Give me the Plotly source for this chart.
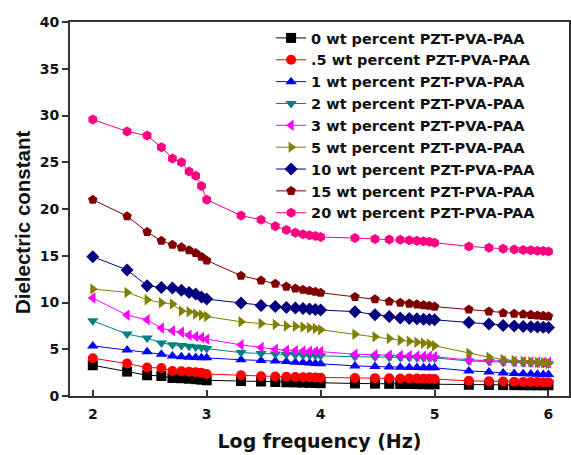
import plotly.graph_objects as go

log_freq = [2, 2.301, 2.477, 2.602, 2.699, 2.778, 2.845, 2.903, 2.954,
            3, 3.301, 3.477, 3.602, 3.699, 3.778, 3.845, 3.903, 3.954,
            4, 4.301, 4.477, 4.602, 4.699, 4.778, 4.845, 4.903, 4.954,
            5, 5.301, 5.477, 5.602, 5.699, 5.778, 5.845, 5.903, 5.954,
            6]

names = ["0 wt percent PZT-PVA-PAA", ".5 wt percent PZT-PVA-PAA",
         "1 wt percent PZT-PVA-PAA", "2 wt percent PZT-PVA-PAA",
         "3 wt percent PZT-PVA-PAA", "5 wt percent PZT-PVA-PAA",
         "10 wt percent PZT-PVA-PAA", "15 wt percent PZT-PVA-PAA",
         "20 wt percent PZT-PVA-PAA"]

s0 = [3.29, 2.61, 2.22, 2.14, 1.93, 1.9, 1.85, 1.8, 1.75,
      1.68, 1.6, 1.55, 1.5, 1.47, 1.45, 1.43, 1.41, 1.39,
      1.37, 1.34, 1.32, 1.3, 1.29, 1.28, 1.27, 1.26, 1.25,
      1.25, 1.2, 1.18, 1.17, 1.16, 1.15, 1.15, 1.15, 1.15, 1.15]
s05 = [4.04, 3.47, 3.04, 3.0, 2.68, 2.65, 2.6, 2.55, 2.5,
       2.35, 2.22, 2.12, 2.08, 2.05, 2.03, 2.01, 2.0, 1.98,
       1.96, 1.93, 1.91, 1.89, 1.88, 1.87, 1.86, 1.85, 1.84,
       1.82, 1.62, 1.58, 1.55, 1.53, 1.51, 1.5, 1.49, 1.48, 1.47]
s1 = [5.36, 4.93, 4.72, 4.47, 4.29, 4.2, 4.15, 4.12, 4.1,
      4.08, 3.88, 3.8, 3.74, 3.68, 3.62, 3.57, 3.52, 3.48,
      3.44, 3.22, 3.15, 3.1, 3.07, 3.05, 3.04, 3.03, 3.02,
      3.02, 2.68, 2.58, 2.45, 2.4, 2.37, 2.35, 2.33, 2.31, 2.3]
s2 = [8.04, 6.62, 6.19, 5.68, 5.47, 5.39, 5.33, 5.25, 5.18,
      5.07, 4.64, 4.55, 4.48, 4.43, 4.4, 4.37, 4.35, 4.32,
      4.3, 4.2, 4.16, 4.14, 4.12, 4.11, 4.1, 4.09, 4.08,
      4.07, 3.75, 3.68, 3.62, 3.58, 3.55, 3.52, 3.5, 3.48, 3.45]
s3 = [10.48, 8.65, 8.15, 7.26, 6.97, 6.83, 6.5, 6.36, 6.25,
      6.08, 5.47, 5.18, 5.0, 4.9, 4.85, 4.8, 4.78, 4.76,
      4.75, 4.47, 4.4, 4.35, 4.32, 4.3, 4.28, 4.26, 4.24,
      4.2, 3.86, 3.8, 3.75, 3.7, 3.67, 3.64, 3.62, 3.6, 3.57]
s5 = [11.44, 11.08, 10.3, 9.97, 9.83, 9.1, 9.0, 8.76, 8.65,
      8.5, 7.94, 7.76, 7.65, 7.5, 7.45, 7.38, 7.3, 7.22,
      7.08, 6.6, 6.33, 6.15, 5.97, 5.85, 5.75, 5.65, 5.55,
      5.38, 4.58, 4.15, 3.9, 3.8, 3.72, 3.66, 3.6, 3.55, 3.48]
s10 = [14.9, 13.48, 11.8, 11.6, 11.55, 11.3, 11.08, 10.9, 10.6,
       10.37, 9.94, 9.69, 9.58, 9.47, 9.4, 9.35, 9.3, 9.25,
       9.2, 9.02, 8.68, 8.5, 8.35, 8.3, 8.25, 8.21, 8.18,
       8.15, 7.86, 7.69, 7.55, 7.48, 7.44, 7.41, 7.38, 7.35, 7.33]
s15 = [20.99, 19.23, 17.55, 16.6, 16.18, 15.9, 15.6, 15.3, 14.9,
       14.5, 12.87, 12.35, 12.0, 11.7, 11.5, 11.37, 11.26, 11.15,
       11.05, 10.6, 10.35, 10.1, 9.97, 9.88, 9.8, 9.72, 9.65,
       9.56, 9.25, 9.04, 8.88, 8.8, 8.74, 8.68, 8.62, 8.57, 8.52]
s20 = [29.56, 28.3, 27.85, 26.6, 25.4, 25.0, 24.0, 23.55, 22.45,
       21.0, 19.3, 18.85, 18.15, 17.75, 17.45, 17.3, 17.2, 17.1,
       17.0, 16.9, 16.8, 16.75, 16.7, 16.65, 16.6, 16.55, 16.5,
       16.4, 16.0, 15.85, 15.75, 15.68, 15.62, 15.58, 15.54, 15.5, 15.45]

series = [s0, s05, s1, s2, s3, s5, s10, s15, s20]
colors = ["#000000", "#FF0000", "#0000FF", "#008080", "#FF00FF",
          "#808000", "#000080", "#800000", "#FF0080"]
symbols = ["square", "circle", "triangle-up", "triangle-down", "triangle-left",
           "triangle-right", "diamond", "pentagon", "hexagon"]

WIDE = "DejaVu Sans, Liberation Sans, sans-serif"
NARROW = "Liberation Sans, Arial, sans-serif"
TXT = "#111111"

fig = go.Figure()
for name, ys, c, sym in zip(names, series, colors, symbols):
    fig.add_trace(go.Scatter(
        x=log_freq, y=ys, name=name, mode="lines+markers",
        line=dict(color=c, width=1),
        marker=dict(symbol=sym, size=10, color=c, line=dict(width=0)),
    ))

fig.update_layout(
    width=571, height=455,
    margin=dict(l=70, r=2, t=22, b=59),
    paper_bgcolor="white", plot_bgcolor="white",
    font=dict(family=WIDE, color=TXT),
    showlegend=True,
    legend=dict(
        x=0.403, y=1.0, xanchor="left", yanchor="top",
        bgcolor="rgba(0,0,0,0)", borderwidth=0,
        font=dict(family=WIDE, size=14.5, color=TXT, weight="bold"),
        itemwidth=30, tracegroupgap=0,
    ),
    xaxis=dict(
        range=[1.8, 6.18], tickvals=[2, 3, 4, 5, 6], automargin=False,
        ticks="inside", ticklen=6, tickwidth=1.5, tickcolor="#333333",
        ticklabelstandoff=4,
        showline=True, linewidth=2, linecolor="#333333", mirror=True,
        showgrid=False, zeroline=False,
        tickfont=dict(family=WIDE, size=14, color=TXT, weight="bold"),
        title=dict(text="Log frequency (Hz)", standoff=14,
                   font=dict(family=WIDE, size=19, color=TXT, weight="bold")),
    ),
    yaxis=dict(
        range=[0, 40], tickvals=[0, 5, 10, 15, 20, 25, 30, 35, 40], automargin=False,
        ticks="outside", ticklen=6, tickwidth=1.5, tickcolor="#333333",
        showline=True, linewidth=2, linecolor="#333333", mirror=True,
        showgrid=False, zeroline=False,
        tickfont=dict(family=WIDE, size=14, color=TXT, weight="bold"),
    ),
    annotations=[dict(
        text="Dielectric constant", textangle=-90,
        xref="paper", yref="paper", x=-0.0962, y=0.465,
        xanchor="center", yanchor="middle", showarrow=False,
        font=dict(family=NARROW, size=20.5, color=TXT, weight="bold"),
    )],
)

fig.write_html(
    "out.html",
    config={"displayModeBar": False},
    post_script="document.body.style.margin='0';document.body.style.overflow='hidden';",
)
